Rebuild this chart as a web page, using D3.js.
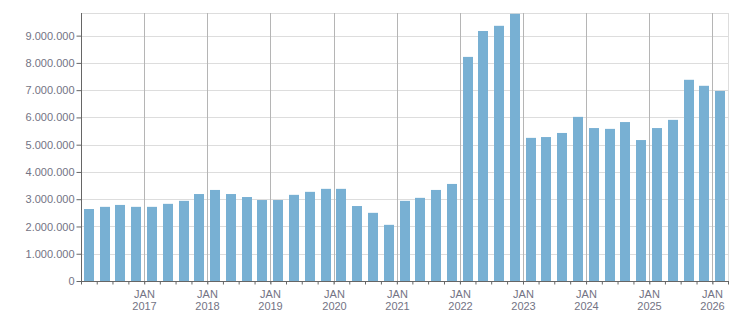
<!DOCTYPE html>
<html>
<head>
<meta charset="utf-8">
<script src="https://cdn.jsdelivr.net/npm/d3@7"></script>
<style>
  body { margin: 0; background: #fff; }
  svg text { font-family: "Liberation Sans", Arial, sans-serif; font-size: 11px; fill: #737384; }
</style>
</head>
<body>
<svg id="chart" width="751" height="313"></svg>
<script>
// quarterly values, Q1 2016 .. Q1 2026
var startQuarter = "2016-01-01";
var values = [2640000, 2720000, 2790000, 2720000,
              2720000, 2830000, 2940000, 3190000,
              3340000, 3190000, 3080000, 2970000,
              2970000, 3160000, 3270000, 3380000,
              3380000, 2750000, 2500000, 2060000,
              2940000, 3050000, 3340000, 3560000,
              8220000, 9170000, 9360000, 9800000,
              5250000, 5280000, 5430000, 6020000,
              5610000, 5580000, 5830000, 5170000,
              5610000, 5910000, 7380000, 7160000,
              6970000];
var yTicks = [0, 1000000, 2000000, 3000000, 4000000, 5000000, 6000000, 7000000, 8000000, 9000000];
var yearLabels = [2017, 2018, 2019, 2020, 2021, 2022, 2023, 2024, 2025, 2026];

var W = 751, H = 313;
var m = { top: 13, right: 23, bottom: 32, left: 81 };

var t0 = new Date(startQuarter + "T00:00:00");
var data = values.map((v, i) => ({ d: d3.timeMonth.offset(t0, i * 3), v: v }));
var tEnd = d3.timeMonth.offset(t0, values.length * 3);

var x = d3.scaleTime().domain([t0, tEnd]).range([m.left, W - m.right]);
var y = d3.scaleLinear().domain([0, 9830000]).range([H - m.bottom, m.top]);

var loc = d3.formatLocale({ decimal: ",", thousands: ".", grouping: [3], currency: ["", ""] });
var fmt = loc.format(",d");

var svg = d3.select("#chart");

// horizontal grid
svg.append("g").selectAll("line").data(yTicks.slice(1).concat([y.domain()[1]])).enter().append("line")
    .attr("x1", m.left).attr("x2", W - m.right)
    .attr("y1", d => Math.round(y(d)) + 0.5).attr("y2", d => Math.round(y(d)) + 0.5)
    .attr("stroke", "#dddddd");

// right border
svg.append("line")
    .attr("x1", W - m.right + 0.5).attr("x2", W - m.right + 0.5)
    .attr("y1", m.top).attr("y2", H - m.bottom)
    .attr("stroke", "#dddddd");

// vertical year grid
var years = yearLabels.map(yr => new Date(yr, 0, 1));
svg.append("g").selectAll("line").data(years).enter().append("line")
    .attr("x1", d => Math.round(x(d)) + 0.5).attr("x2", d => Math.round(x(d)) + 0.5)
    .attr("y1", m.top).attr("y2", H - m.bottom + 3)
    .attr("stroke", "#b5b5b5");

// bars
svg.append("g").selectAll("rect").data(data).enter().append("rect")
    .attr("x", d => Math.round((x(d.d) + x(d3.timeMonth.offset(d.d, 3))) / 2 - 5))
    .attr("width", 10)
    .attr("y", d => y(d.v))
    .attr("height", d => y(0) - y(d.v))
    .attr("fill", "#78b0d3");

// y axis
var ya = svg.append("g").attr("transform", "translate(" + (m.left + 0.5) + ",0)")
    .call(d3.axisLeft(y).tickValues(yTicks).tickFormat(fmt).tickSize(5).tickPadding(2));
ya.select(".domain").attr("stroke", "#666").attr("d", "M0," + m.top + "V" + (H - m.bottom));
ya.selectAll(".tick line").attr("stroke", "#666");
ya.selectAll("text").attr("fill", null);

// x axis, quarter ticks
var xa = svg.append("g").attr("transform", "translate(0," + (H - m.bottom + 0.5) + ")")
    .call(d3.axisBottom(x).ticks(d3.timeMonth.every(3)).tickSize(3).tickFormat(""));
xa.select(".domain").attr("stroke", "#666").attr("d", "M" + m.left + ",0H" + (W - m.right + 1));
xa.selectAll(".tick line").attr("stroke", "#666");

// year labels
var lab = svg.append("g").selectAll("text").data(years).enter().append("text")
    .attr("text-anchor", "middle")
    .attr("transform", d => "translate(" + (Math.round(x(d)) + 0.5) + ",0)");
lab.append("tspan").attr("x", 0).attr("y", 298).text("JAN");
lab.append("tspan").attr("x", 0).attr("y", 310).text(d => d.getFullYear());
</script>
</body>
</html>
